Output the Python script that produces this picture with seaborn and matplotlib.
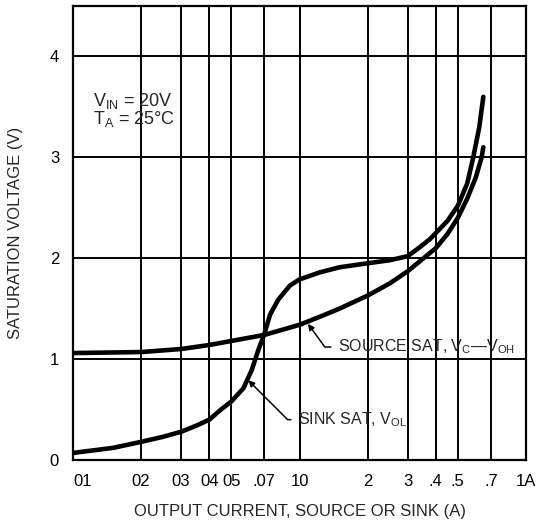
import seaborn as sns
import matplotlib.pyplot as plt
import pandas as pd

# values (current in A, voltage in V)
sink_current = [0.01, 0.015, 0.02, 0.025, 0.03, 0.035, 0.04, 0.045, 0.05, 0.0565,
                0.0615, 0.0658, 0.07, 0.0741, 0.0806, 0.0908, 0.1, 0.123, 0.15, 0.2,
                0.25, 0.3, 0.34, 0.377, 0.4, 0.45, 0.5, 0.55, 0.585, 0.622, 0.648]
sink_voltage = [0.07, 0.12, 0.18, 0.23, 0.28, 0.34, 0.40, 0.50, 0.58, 0.71,
                0.89, 1.09, 1.25, 1.44, 1.59, 1.73, 1.79, 1.86, 1.91, 1.95,
                1.98, 2.02, 2.11, 2.19, 2.25, 2.37, 2.52, 2.74, 3.0, 3.3, 3.6]

source_current = [0.01, 0.02, 0.03, 0.04, 0.05, 0.07, 0.1, 0.123, 0.15, 0.2,
                  0.25, 0.3, 0.34, 0.4, 0.45, 0.5, 0.55, 0.6, 0.637, 0.648]
source_voltage = [1.06, 1.07, 1.10, 1.14, 1.18, 1.24, 1.34, 1.42, 1.50, 1.63,
                  1.75, 1.87, 1.97, 2.10, 2.24, 2.40, 2.59, 2.80, 3.0, 3.1]

xticks = [0.01, 0.02, 0.03, 0.04, 0.05, 0.07, 0.1, 0.2, 0.3, 0.4, 0.5, 0.7, 1.0]
xticklabels = ["01", "02", "03", "04", "05", ".07", "10", "2", "3", ".4", ".5", ".7", "1A"]
yticks = [0, 1, 2, 3, 4]

df = pd.concat([
    pd.DataFrame({"current": sink_current, "voltage": sink_voltage, "curve": "sink"}),
    pd.DataFrame({"current": source_current, "voltage": source_voltage, "curve": "source"}),
])

sns.set_style("white")
plt.rcParams['font.family'] = ['Liberation Sans', 'DejaVu Sans']
plt.rcParams['mathtext.fontset'] = 'custom'
plt.rcParams['mathtext.rm'] = 'Liberation Sans'

fig = plt.figure(figsize=(5.47, 5.22), dpi=100)
ax = fig.add_axes([73/547, 1 - 460/522, 453/547, 454/522])

sns.lineplot(data=df, x="current", y="voltage", hue="curve", units="curve",
             estimator=None, sort=False, palette=["black", "black"],
             legend=False, lw=3.3, ax=ax)

ax.set_xscale("log")
ax.set_xlim(0.01, 1.0)
ax.set_ylim(0, 4.5)
ax.set_xticks(xticks, labels=xticklabels)
ax.minorticks_off()
ax.set_yticks(yticks)
ax.tick_params(axis="both", length=0, labelsize=12, colors="black")
ax.tick_params(axis="x", pad=10)
ax.tick_params(axis="y", pad=10)
ax.get_xticklabels()[0].set_horizontalalignment("left")

ax.grid(True, color="black", lw=1.4)
for s in ax.spines.values():
    s.set_color("black")
    s.set_linewidth(1.6)

ax.set_xlabel("OUTPUT CURRENT, SOURCE OR SINK (A)", fontsize=12)
ax.set_ylabel("SATURATION VOLTAGE (V)", fontsize=12)
ax.xaxis.set_label_coords(0.5, -0.098)
ax.yaxis.set_label_coords(-0.11, 0.5)

ax.text(0.01226, 3.56, r"V$_{\mathrm{IN}}$ = 20V", fontsize=13, va="center", ha="left")
ax.text(0.01226, 3.38, r"T$_{\mathrm{A}}$ = 25°C", fontsize=13, va="center", ha="left")

ax.annotate(r"SOURCE SAT, V$_{\mathrm{C}}$—V$_{\mathrm{OH}}$", xy=(0.109, 1.35),
            xytext=(0.1484, 1.12), fontsize=11.5, va="center", ha="left",
            arrowprops=dict(arrowstyle="-|>", color="black", lw=1.1, mutation_scale=9,
                            shrinkA=3, shrinkB=0, relpos=(0, 0.5),
                            connectionstyle="angle,angleA=0,angleB=126,rad=0"))
ax.annotate(r"SINK SAT, V$_{\mathrm{OL}}$", xy=(0.0594, 0.79),
            xytext=(0.0988, 0.40), fontsize=11.5, va="center", ha="left",
            arrowprops=dict(arrowstyle="-|>", color="black", lw=1.1, mutation_scale=9,
                            shrinkA=3, shrinkB=0, relpos=(0, 0.5),
                            connectionstyle="angle,angleA=0,angleB=135,rad=0"))

plt.savefig("out.png", dpi=100)
